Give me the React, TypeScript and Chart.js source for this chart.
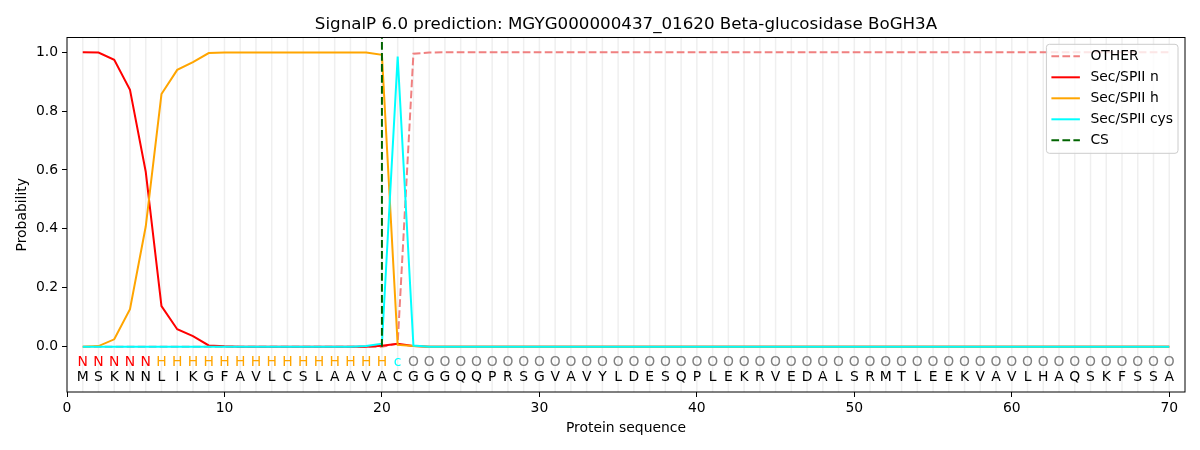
import React, { useEffect, useRef } from 'react';
import { Chart, registerables } from 'chart.js';

Chart.register(...registerables);

const chartTitle = 'SignalP 6.0 prediction: MGYG000000437_01620 Beta-glucosidase BoGH3A';

// amino acid sequence, one letter per position (1..70)
const sequence = 'MSKNNLIKGFAVLCSLAAVACGGGQQPRSGVAVYLDESQPLEKRVEDALSRMTLEEKVAVLHAQSKFSSA'.split('');
// predicted region for each position
const regions = 'NNNNNHHHHHHHHHHHHHHHcOOOOOOOOOOOOOOOOOOOOOOOOOOOOOOOOOOOOOOOOOOOOOOOOO'.split('');
const positions = sequence.map((_, i) => i + 1);

const otherProb = [
  0, 0, 0, 0, 0, 0, 0, 0, 0, 0,
  0, 0, 0, 0, 0, 0, 0, 0, 0, 0,
  0.01, 0.995, 0.999, 1, 1, 1, 1, 1, 1, 1,
  1, 1, 1, 1, 1, 1, 1, 1, 1, 1,
  1, 1, 1, 1, 1, 1, 1, 1, 1, 1,
  1, 1, 1, 1, 1, 1, 1, 1, 1, 1,
  1, 1, 1, 1, 1, 1, 1, 1, 1, 1,
];
const nProb = [
  1.0, 0.999, 0.974, 0.872, 0.594, 0.138, 0.059, 0.036, 0.004, 0.001,
  0, 0, 0, 0, 0, 0, 0, 0, 0, 0.003,
  0.01, 0.002, 0, 0, 0, 0, 0, 0, 0, 0,
  0, 0, 0, 0, 0, 0, 0, 0, 0, 0,
  0, 0, 0, 0, 0, 0, 0, 0, 0, 0,
  0, 0, 0, 0, 0, 0, 0, 0, 0, 0,
  0, 0, 0, 0, 0, 0, 0, 0, 0, 0,
];
const hProb = [
  0, 0.002, 0.025, 0.127, 0.408, 0.858, 0.94, 0.966, 0.997, 0.999,
  0.999, 0.999, 0.999, 0.999, 0.999, 0.999, 0.999, 0.999, 0.999, 0.991,
  0.006, 0.002, 0, 0, 0, 0, 0, 0, 0, 0,
  0, 0, 0, 0, 0, 0, 0, 0, 0, 0,
  0, 0, 0, 0, 0, 0, 0, 0, 0, 0,
  0, 0, 0, 0, 0, 0, 0, 0, 0, 0,
  0, 0, 0, 0, 0, 0, 0, 0, 0, 0,
];
const cysProb = [
  0, 0, 0, 0, 0, 0, 0, 0, 0, 0,
  0, 0, 0, 0, 0, 0, 0, 0, 0.002, 0.01,
  0.985, 0.004, 0, 0, 0, 0, 0, 0, 0, 0,
  0, 0, 0, 0, 0, 0, 0, 0, 0, 0,
  0, 0, 0, 0, 0, 0, 0, 0, 0, 0,
  0, 0, 0, 0, 0, 0, 0, 0, 0, 0,
  0, 0, 0, 0, 0, 0, 0, 0, 0, 0,
];
const csPosition = 20;
const csSpan = [0, 1.05];

const xTicks = [0, 10, 20, 30, 40, 50, 60, 70];
const yTicks = [0, 0.2, 0.4, 0.6, 0.8, 1.0];

const FONT = 'DejaVu Sans';
const regionColors: Record<string, string> = { N: 'red', H: 'orange', c: 'cyan', O: 'gray' };

const legendItems = [
  { label: 'OTHER', color: '#f08080', dash: [7.7, 3.3] },
  { label: 'Sec/SPII n', color: 'red', dash: [] },
  { label: 'Sec/SPII h', color: 'orange', dash: [] },
  { label: 'Sec/SPII cys', color: 'cyan', dash: [] },
  { label: 'CS', color: '#006400', dash: [7.7, 3.3] },
];

const toPoints = (vals: number[]) => positions.map((p, i) => ({ x: p, y: vals[i] }));

const decorPlugin = {
  id: 'decor',
  beforeDatasetsDraw(chart: any) {
    const { ctx, chartArea, scales } = chart;
    ctx.save();
    ctx.strokeStyle = '#efefef';
    ctx.lineWidth = 1.5;
    positions.forEach((p) => {
      const px = scales.x.getPixelForValue(p);
      ctx.beginPath();
      ctx.moveTo(px, chartArea.top);
      ctx.lineTo(px, chartArea.bottom);
      ctx.stroke();
    });
    ctx.restore();
  },
  afterDatasetsDraw(chart: any) {
    const { ctx, chartArea, scales } = chart;
    ctx.save();
    // sequence letters and region labels
    ctx.font = `13.9px "${FONT}"`;
    ctx.textAlign = 'center';
    ctx.textBaseline = 'alphabetic';
    positions.forEach((p, i) => {
      const px = scales.x.getPixelForValue(p);
      ctx.fillStyle = regionColors[regions[i]];
      ctx.fillText(regions[i], px, scales.y.getPixelForValue(-0.05) + 5);
      ctx.fillStyle = '#000';
      ctx.fillText(sequence[i], px, scales.y.getPixelForValue(-0.1) + 5);
    });

    // axes frame
    ctx.strokeStyle = '#000';
    ctx.lineWidth = 1;
    ctx.strokeRect(chartArea.left, chartArea.top, chartArea.right - chartArea.left, chartArea.bottom - chartArea.top);

    // legend
    const boxW = 131.6;
    const boxH = 109;
    const bx = chartArea.right - 7 - boxW;
    const by = chartArea.top + 6.8;
    ctx.beginPath();
    ctx.roundRect(bx, by, boxW, boxH, 3);
    ctx.fillStyle = 'rgba(255,255,255,0.8)';
    ctx.fill();
    ctx.strokeStyle = '#cccccc';
    ctx.stroke();
    ctx.textAlign = 'left';
    ctx.textBaseline = 'middle';
    legendItems.forEach((item, i) => {
      const ry = by + 12 + i * 21;
      ctx.beginPath();
      ctx.setLineDash(item.dash);
      ctx.strokeStyle = item.color;
      ctx.lineWidth = 2;
      ctx.moveTo(bx + 5, ry);
      ctx.lineTo(bx + 33.5, ry);
      ctx.stroke();
      ctx.setLineDash([]);
      ctx.fillStyle = '#000';
      ctx.fillText(item.label, bx + 44, ry);
    });
    ctx.restore();
  },
  afterDraw(chart: any) {
    const { ctx, chartArea } = chart;
    ctx.save();
    ctx.font = `16.7px "${FONT}"`;
    ctx.fillStyle = '#000';
    ctx.textAlign = 'center';
    ctx.textBaseline = 'alphabetic';
    ctx.fillText(chartTitle, (chartArea.left + chartArea.right) / 2, 29);
    ctx.restore();
  },
};

export default function App() {
  const canvasRef = useRef<HTMLCanvasElement>(null);

  useEffect(() => {
    const canvas = canvasRef.current;
    if (!canvas) return;
    const tickFont = { family: FONT, size: 13.9 };
    const line = (label: string, vals: number[], color: string, order: number, dash: number[] = []) => ({
      label,
      data: toPoints(vals),
      borderColor: color,
      backgroundColor: color,
      borderWidth: 2,
      borderDash: dash,
      pointRadius: 0,
      tension: 0,
      fill: false,
      order,
    });

    const chart = new Chart(canvas, {
      type: 'line',
      data: {
        datasets: [
          line('OTHER', otherProb, '#f08080', 4, [7.7, 3.3]),
          line('Sec/SPII n', nProb, 'red', 3),
          line('Sec/SPII h', hProb, 'orange', 2),
          line('Sec/SPII cys', cysProb, 'cyan', 1),
          {
            label: 'CS',
            data: csSpan.map((y) => ({ x: csPosition, y })),
            borderColor: '#006400',
            borderWidth: 2,
            borderDash: [7.7, 3.3],
            pointRadius: 0,
            fill: false,
            order: 0,
          },
        ] as any,
      },
      options: {
        responsive: false,
        animation: false,
        layout: { padding: { top: 37.5, right: 15, bottom: 0, left: 0 } },
        plugins: { legend: { display: false }, tooltip: { enabled: false }, title: { display: false } },
        scales: {
          x: {
            type: 'linear',
            min: 0,
            max: 71,
            afterBuildTicks: (s: any) => {
              s.ticks = xTicks.map((v) => ({ value: v }));
            },
            afterFit: (s: any) => {
              s.height = 58;
            },
            ticks: { font: tickFont, color: '#000', padding: 3, maxRotation: 0, autoSkip: false, callback: (v: any) => String(v) },
            grid: { drawOnChartArea: false, color: '#000', tickLength: 5, lineWidth: 1 },
            border: { display: false },
            title: { display: true, text: 'Protein sequence', font: tickFont, color: '#000', padding: { top: 0, bottom: 13.7 } },
          },
          y: {
            type: 'linear',
            min: -0.154,
            max: 1.05,
            afterBuildTicks: (s: any) => {
              s.ticks = yTicks.map((v) => ({ value: v }));
            },
            afterFit: (s: any) => {
              s.width = 67;
            },
            ticks: { font: tickFont, color: '#000', padding: 4, callback: (v: any) => Number(v).toFixed(1) },
            grid: { drawOnChartArea: false, color: '#000', tickLength: 5, lineWidth: 1 },
            border: { display: false },
            title: { display: true, text: 'Probability', font: tickFont, color: '#000', padding: { top: 13.7, bottom: 0 } },
          },
        },
      } as any,
      plugins: [decorPlugin],
    });

    return () => {
      chart.destroy();
    };
  }, []);

  return (
    <div style={{ position: 'fixed', left: 0, top: 0, width: 1200, height: 450, background: '#fff' }}>
      <canvas ref={canvasRef} width={1200} height={450} />
    </div>
  );
}
